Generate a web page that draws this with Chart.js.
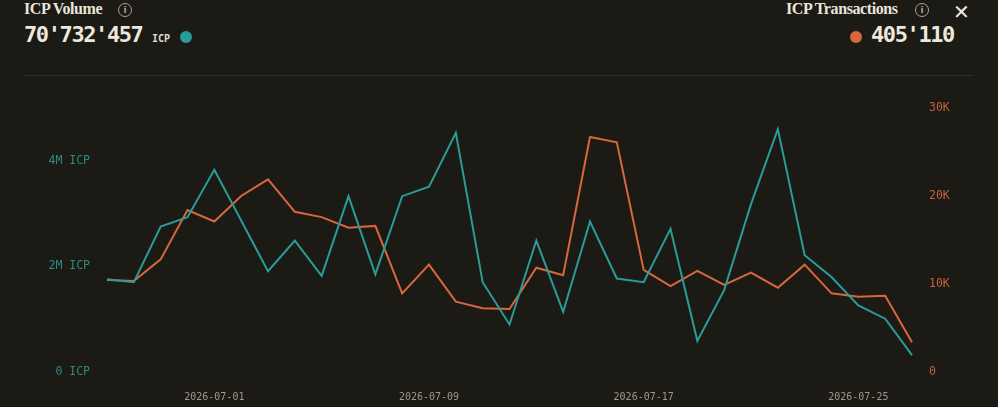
<!DOCTYPE html>
<html>
<head>
<meta charset="utf-8">
<script src="https://cdn.jsdelivr.net/npm/chart.js@4"></script>
<style>
    body { margin: 0; background: #1b1a15; width: 998px; height: 407px; overflow: hidden; position: relative; font-family: "DejaVu Sans Mono", monospace; color: #ebe7dc; }
    .title { position: absolute; top: 0px; font-family: "Liberation Serif", serif; font-weight: bold; font-size: 16px; letter-spacing: -0.4px; color: #e9e5da; }
    .info { position: absolute; top: 3px; width: 12px; height: 12px; border: 1.5px solid #a8a49a; border-radius: 50%; color: #a8a49a; font-size: 9px; line-height: 12px; text-align: center; font-family: "DejaVu Sans", sans-serif; font-weight: bold; }
    .big { position: absolute; top: 22px; font-weight: bold; font-size: 22px; letter-spacing: -1.4px; color: #ecE8de; }
    .unit { position: absolute; top: 33px; font-weight: bold; font-size: 10px; color: #e0dcd1; }
    .dot { position: absolute; top: 31px; width: 12px; height: 12px; border-radius: 50%; }
    .close { position: absolute; left: 953px; top: 0px; font-family: "DejaVu Sans", sans-serif; font-size: 20px; color: #f0ece2; }
    .sep { position: absolute; left: 24px; top: 75px; width: 950px; height: 1px; background: #2f2e2a; }
    #wrap { position: absolute; left: 0; top: 80px; }
</style>
</head>
<body>
<div class="title" style="left:24px">ICP Volume</div>
<div class="info" style="left:118px">i</div>
<div class="big" style="left:24px">70'732'457</div>
<div class="unit" style="left:152px">ICP</div>
<div class="dot" style="left:180px;background:#2a9c97"></div>

<div class="title" style="left:786px">ICP Transactions</div>
<div class="info" style="left:915px">i</div>
<div class="close">✕</div>
<div class="dot" style="left:850px;background:#d8673d"></div>
<div class="big" style="left:871px">405'110</div>

<div class="sep"></div>

<div id="wrap"><canvas id="icpChart" width="998" height="327"></canvas></div>

<script>
// daily categories
const dates = [
    '2026-06-27', '2026-06-28', '2026-06-29', '2026-06-30', '2026-07-01', '2026-07-02', '2026-07-03', '2026-07-04',
    '2026-07-05', '2026-07-06', '2026-07-07', '2026-07-08', '2026-07-09', '2026-07-10', '2026-07-11', '2026-07-12',
    '2026-07-13', '2026-07-14', '2026-07-15', '2026-07-16', '2026-07-17', '2026-07-18', '2026-07-19', '2026-07-20',
    '2026-07-21', '2026-07-22', '2026-07-23', '2026-07-24', '2026-07-25', '2026-07-26', '2026-07-27'
];

// ICP volume per day (ICP)
const volume = [
    1755000, 1700000, 2755000, 2930000, 3830000, 2870000, 1910000, 2490000,
    1820000, 3330000, 1850000, 3330000, 3510000, 4530000, 1700000, 900000,
    2490000, 1140000, 2850000, 1770000, 1700000, 2710000, 590000, 1550000,
    3180000, 4600000, 2210000, 1800000, 1260000, 1010000, 320000
];

// transactions per day
const transactions = [
    10450, 10340, 12800, 18400, 17100, 20000, 21900, 18200,
    17600, 16400, 16600, 8940, 12200, 7990, 7240, 7160,
    11850, 11000, 26700, 26100, 11600, 9770, 11500, 9890,
    11300, 9580, 12200, 8940, 8560, 8670, 3380
];

const volumeTicks = [0, 2000000, 4000000];
const txTicks = [0, 10000, 20000, 30000];
const dateTicks = ['2026-07-01', '2026-07-09', '2026-07-17', '2026-07-25'];

const teal = '#2a9c97';
const orange = '#d8673d';
const mono = "'DejaVu Sans Mono', monospace";

const ctx = document.getElementById('icpChart').getContext('2d');
new Chart(ctx, {
    type: 'line',
    data: {
        labels: dates,
        datasets: [{
            data: volume,
            yAxisID: 'yVol',
            borderColor: teal,
            borderWidth: 2,
            pointRadius: 0,
            tension: 0,
        }, {
            data: transactions,
            yAxisID: 'yTx',
            borderColor: orange,
            borderWidth: 2,
            pointRadius: 0,
            tension: 0,
        }]
    },
    options: {
        responsive: false,
        animation: false,
        layout: { padding: { top: 28, left: 0, right: 0, bottom: 0 } },
        plugins: {
            legend: { display: false },
            tooltip: { enabled: false },
        },
        scales: {
            x: {
                grid: { display: false, drawTicks: false },
                border: { display: false },
                afterFit: axis => { axis.height = 35; },
                ticks: {
                    autoSkip: false,
                    maxRotation: 0,
                    padding: 19,
                    color: '#9c988e',
                    font: { family: mono, size: 10 },
                    callback: function (value, index) {
                        const label = dates[index];
                        return dateTicks.includes(label) ? label : '';
                    }
                }
            },
            yVol: {
                position: 'left',
                min: 0,
                max: 5000000,
                grid: { display: false, drawTicks: false },
                border: { display: false },
                afterFit: axis => { axis.width = 107; },
                afterBuildTicks: axis => axis.ticks = volumeTicks.map(v => ({value: v})),
                ticks: {
                    padding: 17,
                    color: '#2d8a85',
                    font: { family: mono, size: 11.5 },
                    callback: v => v === 0 ? '0 ICP' : (v / 1000000) + 'M ICP'
                }
            },
            yTx: {
                position: 'right',
                min: 0,
                max: 30000,
                grid: { display: false, drawTicks: false },
                border: { display: false },
                afterFit: axis => { axis.width = 86; },
                afterBuildTicks: axis => axis.ticks = txTicks.map(v => ({value: v})),
                ticks: {
                    padding: 17,
                    color: '#c2613b',
                    font: { family: mono, size: 11.5 },
                    callback: v => v === 0 ? '0' : (v / 1000) + 'K'
                }
            }
        }
    }
});
</script>
</body>
</html>
